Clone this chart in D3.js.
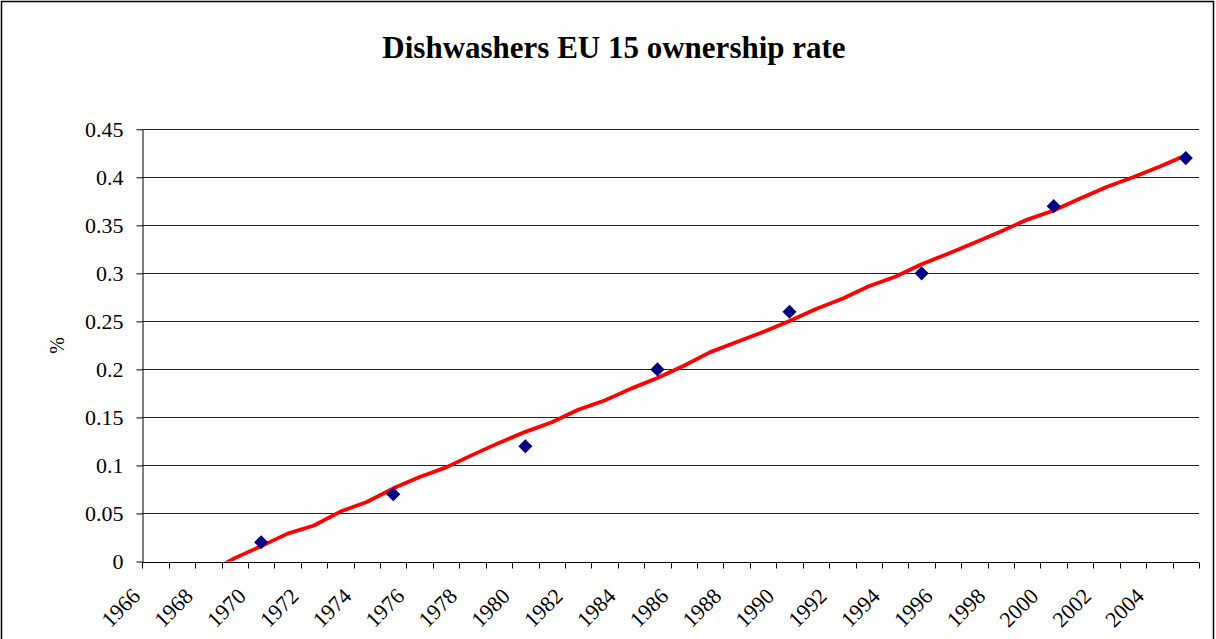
<!DOCTYPE html>
<html>
<head>
<meta charset="utf-8">
<script src="https://cdn.jsdelivr.net/npm/d3@7"></script>
<style>
  html, body { margin: 0; padding: 0; background: #fff; }
  svg { display: block; }
  text { font-family: "Liberation Serif", "Times New Roman", serif; fill: #000; }
</style>
</head>
<body>
<svg id="chart" width="1216" height="639"></svg>
<script>
// Category axis: one slot per year
const years = d3.range(1966, 2006);
const yearLabels = years.filter((y, i) => i % 2 === 0);

// Observed ownership rate (every five years)
const obsYears = [1970, 1975, 1980, 1985, 1990, 1995, 2000, 2005];
const obsValues = [0.02, 0.07, 0.12, 0.20, 0.26, 0.30, 0.37, 0.42];

// Fitted trend, one value per year from 1968
const trendYears = d3.range(1968, 2006);
const trendValues = [
  -0.011, 0.0035, 0.016, 0.029, 0.0375, 0.052, 0.062, 0.0762, 0.088, 0.098,
  0.111, 0.1235, 0.135, 0.145, 0.158, 0.1677, 0.180, 0.191, 0.2038, 0.218,
  0.2285, 0.239, 0.2505, 0.263, 0.2735, 0.2865, 0.2965, 0.3095, 0.3205, 0.332,
  0.3437, 0.356, 0.3655, 0.378, 0.390, 0.400, 0.411, 0.423
];

const yTicks = [0, 0.05, 0.1, 0.15, 0.2, 0.25, 0.3, 0.35, 0.4, 0.45];

const titleText = "Dishwashers EU 15 ownership rate";
const yTitle = "%";

const svg = d3.select("#chart");
const W = 1216, H = 639;
const plot = { left: 142.3, right: 1199, top: 129.3, bottom: 561.5 };
const serif = "Liberation Serif";

// Outer chart frame
svg.append("rect")
  .attr("x", 1.5).attr("y", 1.5)
  .attr("width", W - 4).attr("height", H + 40)
  .attr("fill", "#fff").attr("stroke", "#000").attr("stroke-width", 1.5);

const x = d3.scaleBand().domain(years).range([plot.left, plot.right]).padding(0);
const y = d3.scaleLinear().domain([0, 0.45]).range([plot.bottom, plot.top]);
const cx = yr => x(yr) + x.bandwidth() / 2;

// Title, centred on the chart frame
svg.append("text")
  .attr("x", 614)
  .attr("y", 58)
  .attr("text-anchor", "middle")
  .attr("font-family", serif)
  .attr("font-size", 31)
  .attr("font-weight", "bold")
  .text(titleText);

// Horizontal gridlines
svg.append("g")
  .selectAll("line")
  .data(yTicks.filter(v => v > 0))
  .join("line")
  .attr("x1", plot.left).attr("x2", plot.right)
  .attr("y1", d => Math.round(y(d)) + 0.5).attr("y2", d => Math.round(y(d)) + 0.5)
  .attr("stroke", "#222").attr("stroke-width", 1);

// Y axis
const yAxis = svg.append("g")
  .attr("transform", `translate(${Math.round(plot.left) + 0.5},0)`)
  .call(d3.axisLeft(y).tickValues(yTicks).tickSize(6).tickSizeOuter(0)
    .tickPadding(13).tickFormat(d => String(+d.toFixed(2))));
yAxis.attr("font-family", serif);
yAxis.select(".domain").attr("stroke", "#000");
yAxis.selectAll(".tick line").attr("stroke", "#000");
yAxis.selectAll(".tick text")
  .attr("font-family", serif)
  .attr("font-size", 22)
  .attr("fill", "#000");

// X axis line and boundary ticks between categories
const xg = svg.append("g");
const xBase = Math.round(plot.bottom) + 0.5;
xg.append("line")
  .attr("x1", plot.left).attr("x2", plot.right)
  .attr("y1", xBase).attr("y2", xBase)
  .attr("stroke", "#000");
const boundaries = years.map(yr => x(yr)).concat([x(years[years.length - 1]) + x.bandwidth()]);
xg.selectAll("line.tk")
  .data(boundaries)
  .join("line")
  .attr("class", "tk")
  .attr("x1", d => Math.round(d) + 0.5).attr("x2", d => Math.round(d) + 0.5)
  .attr("y1", xBase).attr("y2", xBase + 6)
  .attr("stroke", "#000");

// Rotated year labels
xg.selectAll("text")
  .data(yearLabels)
  .join("text")
  .attr("transform", d => `translate(${cx(d) - 14},${plot.bottom + 36}) rotate(-45)`)
  .attr("text-anchor", "end")
  .attr("font-family", serif)
  .attr("font-size", 22)
  .text(d => d);

// Y axis title
svg.append("text")
  .attr("transform", `translate(64,${(plot.top + plot.bottom) / 2}) rotate(-90)`)
  .attr("text-anchor", "middle")
  .attr("font-family", serif)
  .attr("font-size", 20)
  .text(yTitle);

// Trend line, clipped to the plot area
svg.append("clipPath").attr("id", "plotClip")
  .append("rect")
  .attr("x", plot.left).attr("y", plot.top - 10)
  .attr("width", plot.right - plot.left).attr("height", plot.bottom - plot.top + 10);

const line = d3.line()
  .x((d, i) => cx(trendYears[i]))
  .y(d => y(d));

svg.append("path")
  .datum(trendValues)
  .attr("clip-path", "url(#plotClip)")
  .attr("d", line)
  .attr("fill", "none")
  .attr("stroke", "#ff0000")
  .attr("stroke-width", 3.8)
  .attr("stroke-linejoin", "round");

// Observed points as diamonds
const diamond = d3.symbol().type(d3.symbolSquare).size(100);
svg.append("g")
  .selectAll("path")
  .data(obsValues)
  .join("path")
  .attr("transform", (d, i) => `translate(${cx(obsYears[i])},${y(d)}) rotate(45)`)
  .attr("d", diamond)
  .attr("fill", "#000080");
</script>
</body>
</html>
